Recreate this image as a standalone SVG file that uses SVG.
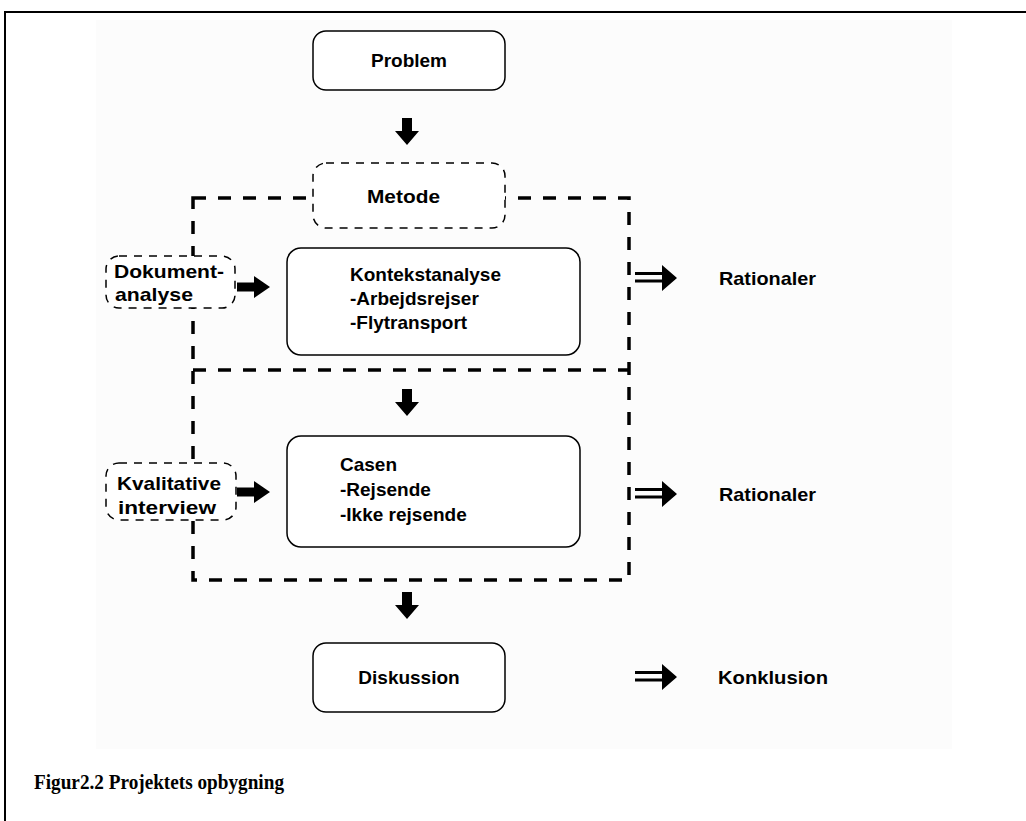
<svg xmlns="http://www.w3.org/2000/svg" width="1026" height="821" viewBox="0 0 1026 821">
<style>
.t{font-family:"Liberation Sans",Arial,sans-serif;font-weight:bold;font-size:19px;fill:#000}
.c{text-anchor:middle}
.box{fill:#fff;stroke:#000;stroke-width:1.5}
.dbox{fill:#fff;stroke:#000;stroke-width:1.5;stroke-dasharray:8 7}
.frame{fill:none;stroke:#000;stroke-dasharray:13 12;stroke-width:3.5}
.ar{fill:#000}
.cap{font-family:"Liberation Serif","Times New Roman",serif;font-weight:bold;font-size:22px;fill:#000}
</style>
<defs>
<path id="down" d="M-5,0 H5 V13 H12 L0,27 L-12,13 H-5 Z"/>
<path id="right" d="M0,-4.5 H17 V-11 L33,0 L17,11 V4.5 H0 Z"/>
<path id="dbl" d="M0,-6 H28 V-3 H0 Z M0,1.5 H28 V4.5 H0 Z M27,-13 L42,0 L27,13 Z"/>
</defs>
<rect x="0" y="0" width="1026" height="821" fill="#fff"/>
<rect x="96" y="20" width="856" height="729" fill="#fcfcfc"/>
<path d="M5,821 V12 H1026" fill="none" stroke="#000" stroke-width="2"/>
<g id="connectors">
<path class="frame" d="M193,198 H629 V580 H193 Z"/>
<path class="frame" d="M193,370 H629"/>
<use href="#down" class="ar" x="407" y="118"/>
<use href="#down" class="ar" x="407" y="389"/>
<use href="#down" class="ar" x="407" y="592"/>
<use href="#right" class="ar" x="237" y="287"/>
<use href="#right" class="ar" x="237" y="492"/>
<use href="#dbl" class="ar" x="635" y="278"/>
<use href="#dbl" class="ar" x="635" y="494"/>
<use href="#dbl" class="ar" x="635" y="677"/>
</g>
<g id="problem"><rect class="box" x="313" y="31" width="192" height="59" rx="13"/><text class="t c" x="409" y="67">Problem</text></g>
<g id="metode"><rect class="dbox" x="313" y="163" width="192" height="65" rx="13"/><text class="t" x="367" y="203" textLength="73" lengthAdjust="spacingAndGlyphs">Metode</text></g>
<g id="dokument"><rect class="dbox" x="106" y="256" width="129" height="52" rx="13"/><text class="t" x="114" y="278" textLength="110" lengthAdjust="spacingAndGlyphs">Dokument-</text><text class="t" x="115" y="301" textLength="78" lengthAdjust="spacingAndGlyphs">analyse</text></g>
<g id="kontekst"><rect class="box" x="287" y="248" width="293" height="107" rx="14"/><text class="t" x="350" y="281">Kontekstanalyse</text><text class="t" x="350" y="305">-Arbejdsrejser</text><text class="t" x="350" y="329">-Flytransport</text></g>
<g id="rationaler1"><text class="t" x="719" y="285" textLength="97" lengthAdjust="spacingAndGlyphs">Rationaler</text></g>
<g id="kvalitative"><rect class="dbox" x="106" y="463" width="130" height="57" rx="13"/><text class="t" x="117" y="490" textLength="104" lengthAdjust="spacingAndGlyphs">Kvalitative</text><text class="t" x="118" y="514" textLength="98" lengthAdjust="spacingAndGlyphs">interview</text></g>
<g id="casen"><rect class="box" x="287" y="436" width="293" height="111" rx="14"/><text class="t" x="340" y="471">Casen</text><text class="t" x="340" y="496">-Rejsende</text><text class="t" x="340" y="521">-Ikke rejsende</text></g>
<g id="rationaler2"><text class="t" x="719" y="501" textLength="97" lengthAdjust="spacingAndGlyphs">Rationaler</text></g>
<g id="diskussion"><rect class="box" x="313" y="643" width="192" height="69" rx="13"/><text class="t c" x="409" y="684">Diskussion</text></g>
<g id="konklusion"><text class="t" x="718" y="684" textLength="110" lengthAdjust="spacingAndGlyphs">Konklusion</text></g>
<text class="cap" x="34" y="789" textLength="250" lengthAdjust="spacingAndGlyphs">Figur2.2 Projektets opbygning</text>
</svg>
